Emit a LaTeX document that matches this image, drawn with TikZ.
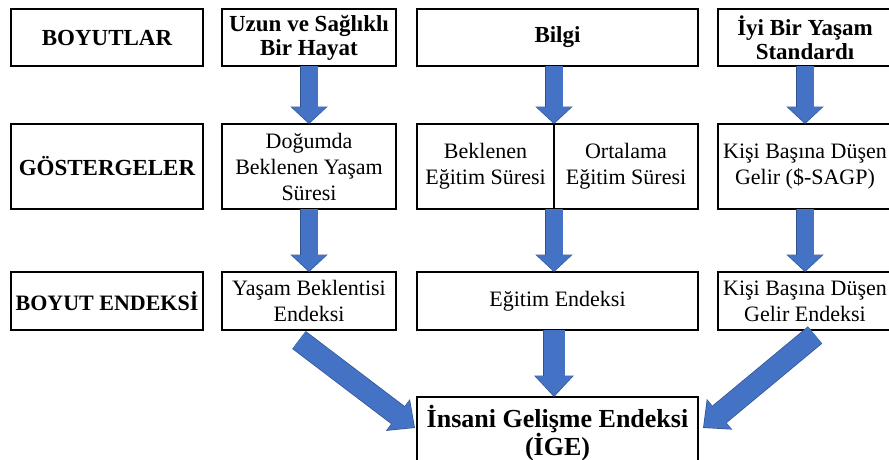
\documentclass[tikz,border=0pt]{standalone}
\usepackage{fontspec}
\setmainfont{Liberation Serif}
\usetikzlibrary{positioning,arrows.meta,calc}
\definecolor{ArrowBlue}{RGB}{68,114,196}
\definecolor{ArrowEdge}{RGB}{47,82,143}

\begin{document}
\begin{tikzpicture}[x=1pt, y=-1pt,
    cell/.style={rectangle, draw=black, line width=1.6pt, outer sep=0pt, inner sep=1pt,
        align=center, font=\fontsize{22}{26}\selectfont},
    head/.style={cell, font=\fontsize{23}{24}\selectfont\bfseries},
    side/.style={minimum width=192pt}, narrow/.style={minimum width=174pt},
    wide/.style={minimum width=281pt},
    rowa/.style={minimum height=57pt}, rowb/.style={minimum height=85pt},
    rowc/.style={minimum height=58pt},
    blk/.style={ArrowBlue, line width=17pt, -{Triangle[length=16pt,width=34pt]}, shorten >=1pt,
        preaction={draw=ArrowEdge, line width=18.4pt, -{Triangle[length=17.5pt,width=36.5pt]}, shorten >=0pt}},
    bigblk/.style={ArrowBlue, line width=21pt, -{Triangle[length=20pt,width=36pt]}, shorten >=1pt,
        preaction={draw=ArrowEdge, line width=22.4pt, -{Triangle[length=21.5pt,width=38.5pt]}, shorten >=0pt}},
]
\useasboundingbox (0,0) rectangle (889,459);

% Boyutlar
\node[head, side, rowa] (boyut) at (107,37.5) {BOYUTLAR};
\node[head, narrow, rowa, right=19pt of boyut] (hayat) {Uzun ve Sağlıklı\\Bir Hayat};
\node[head, wide, rowa, right=21pt of hayat] (bilgi) {Bilgi};
\node[head, narrow, rowa, right=20pt of bilgi] (standart) {İyi Bir Yaşam\\Standardı};

% Gostergeler
\node[head, side, rowb, below=58pt of boyut] (gosterge) {GÖSTERGELER};
\node[cell, narrow, rowb, below=58pt of hayat] (dogum) {Doğumda\\Beklenen Yaşam\\Süresi};
\node[cell, minimum width=137pt, rowb, below=58pt of bilgi.south west, anchor=north west] (beklenen) {Beklenen\\Eğitim Süresi};
\node[cell, minimum width=144pt, rowb, right=0pt of beklenen] (ortalama) {Ortalama\\Eğitim Süresi};
\node[cell, narrow, rowb, below=58pt of standart] (kisi) {Kişi Başına Düşen\\Gelir (\$-SAGP)};

% Boyut endeksi
\node[head, side, rowc, inner sep=0pt, font=\fontsize{22}{24}\selectfont\bfseries,
    below=63pt of gosterge] (endeks) {BOYUT ENDEKSİ};
\node[cell, narrow, rowc, below=63pt of dogum] (yasamend) {Yaşam Beklentisi\\Endeksi};
\node[cell, wide, rowc, below=63pt of beklenen.south west, anchor=north west] (egitimend) {Eğitim Endeksi};
\node[cell, narrow, rowc, below=63pt of kisi] (gelirend) {Kişi Başına Düşen\\Gelir Endeksi};

\node[cell, wide, minimum height=72pt, font=\fontsize{26}{28}\selectfont\bfseries,
    below=67pt of egitimend] (ige) {İnsani Gelişme Endeksi\\(İGE)};

\draw[blk] (hayat) -- (dogum);
\draw[blk] (bilgi.south -| beklenen.north east) -- (beklenen.north east);
\draw[blk] (standart) -- (kisi);
\draw[blk] (dogum) -- (yasamend);
\draw[blk] (beklenen.south east) -- (beklenen.south east |- egitimend.north);
\draw[blk] (kisi) -- (gelirend);

% Son endeks
\draw[bigblk] (egitimend.south -| beklenen.south east) -- (ige.north -| beklenen.south east);
\draw[bigblk] ($(yasamend.south)+(-10,10)$) -- ($(ige.north west)+(-2,31)$);
\draw[bigblk] ($(gelirend.south)+(10,5)$) -- ($(ige.north east)+(5,31)$);
\end{tikzpicture}
\end{document}
